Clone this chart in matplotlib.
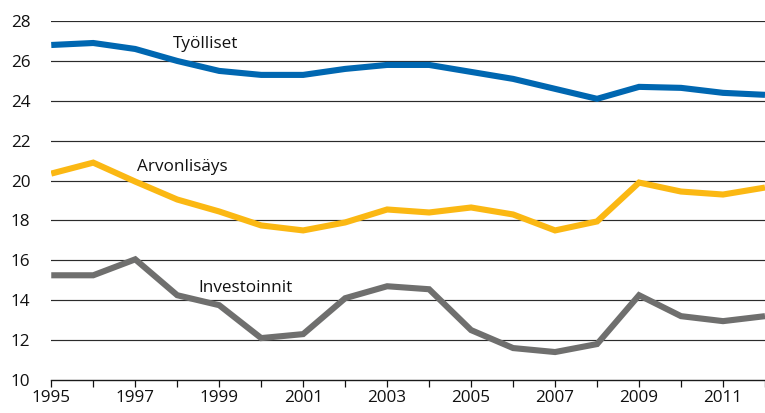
import matplotlib.pyplot as plt

plt.rcParams["font.family"] = ["Open Sans", "DejaVu Sans"]

years = list(range(1995, 2013))

# Osuudet (%), luettu kuvasta
tyolliset = [26.8, 26.9, 26.6, 26.0, 25.5, 25.3, 25.3, 25.6, 25.8, 25.8,
             25.45, 25.1, 24.6, 24.1, 24.7, 24.65, 24.4, 24.3]
arvonlisays = [20.35, 20.9, 19.95, 19.05, 18.45, 17.75, 17.5, 17.9, 18.55, 18.4,
               18.65, 18.3, 17.5, 17.95, 19.9, 19.45, 19.3, 19.65]
investoinnit = [15.25, 15.25, 16.05, 14.25, 13.75, 12.1, 12.3, 14.1, 14.7, 14.55,
                12.5, 11.6, 11.4, 11.8, 14.25, 13.2, 12.95, 13.2]

series = [
    ("Työlliset", tyolliset, "#0067b1", (1997.9, 26.85)),
    ("Arvonlisäys", arvonlisays, "#fbb813", (1997.05, 20.7)),
    ("Investoinnit", investoinnit, "#6f6f6e", (1998.5, 14.6)),
]

yticks = list(range(10, 30, 2))

fig = plt.figure(figsize=(7.65, 4.13), dpi=100)
ax = fig.add_axes([0.067, 0.08, 0.933, 0.869])

for y in yticks[1:]:
    ax.axhline(y, color="#2b2b2b", lw=0.85, zorder=1)

for name, vals, col, (tx, ty) in series:
    ax.plot(years, vals, color=col, lw=4.4, solid_capstyle="butt",
            solid_joinstyle="miter", zorder=3)
    ax.text(tx, ty, name, fontsize=12.3, color="#111111", va="center", ha="left",
            zorder=4)

ax.set_xlim(1995, 2012)
ax.set_ylim(10, 28)
ax.set_yticks(yticks)
ax.set_xticks(years)
ax.set_xticklabels([str(y) if (y - 1995) % 2 == 0 else "" for y in years])

for s in ["top", "right", "left"]:
    ax.spines[s].set_visible(False)
ax.spines["bottom"].set_color("#1a1a1a")
ax.spines["bottom"].set_linewidth(1.0)

ax.tick_params(axis="y", length=0, labelsize=12.3, pad=15, colors="#111111")
ax.tick_params(axis="x", length=5, width=0.9, direction="out",
               labelsize=12.3, pad=2, colors="#111111")

fig.savefig("out.png", dpi=100)
